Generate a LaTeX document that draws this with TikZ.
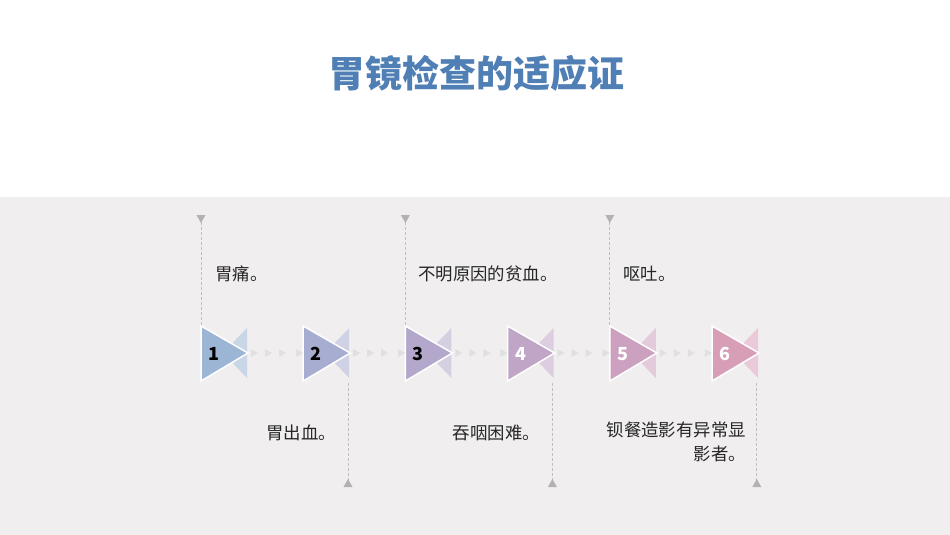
\documentclass[tikz,border=0pt]{standalone}
\usepackage{fontspec}
\setmainfont{Noto Sans CJK SC}
\begin{document}
\begin{tikzpicture}[x=1pt,y=-1pt,
  dashln/.style={draw=black!25,dash pattern=on 3pt off 2pt,line width=0.8pt},
  lab/.style={font=\fontsize{17.4}{24}\selectfont,text=black!85,inner sep=0pt}]
\useasboundingbox (0,0) rectangle (950,535);
\fill[white] (0,0) rectangle (950,535);
\definecolor{bg}{HTML}{F0EEEF}
\fill[bg] (0,197) rectangle (950,535);
\node[font=\fontsize{37}{42}\selectfont\bfseries,text={rgb,255:red,79;green,127;blue,181}] (title) at (476,73) {胃镜检查的适应证};
\definecolor{c1}{HTML}{9DB5D5}\definecolor{c2}{HTML}{A7ADD0}\definecolor{c3}{HTML}{B3A8CB}
\definecolor{c4}{HTML}{C0A5C6}\definecolor{c5}{HTML}{CCA1BF}\definecolor{c6}{HTML}{D89EB8}
\foreach \i/\c/\t in {0/c1/black,1/c2/black,2/c3/black,3/c4/white,4/c5/white,5/c6/white}{
  \pgfmathsetmacro{\x}{201+102.2*\i}
  \fill[\c!55!white] (\x+46,328) -- (\x+46,378) -- (\x+22,353) -- cycle;
  \fill[\c,draw=white,line width=1.5pt] (\x,326) -- (\x+47,353) -- (\x,381) -- cycle;
  \node[font=\fontsize{18}{18}\selectfont\bfseries,text=\t] (n\i) at (\x+13,354) {\the\numexpr\i+1\relax};
}
\foreach \i in {0,...,4}{
  \pgfmathsetmacro{\x}{201+102.2*\i}
  \foreach \d in {50,64,78,95}{
    \fill[black!12] (\x+\d,349) -- (\x+\d+7,353) -- (\x+\d,357) -- cycle;}
}
\foreach \x/\k in {201/a,405.4/b,609.8/c}{
  \coordinate (t\k) at (\x,222);
  \coordinate (u\k) at (\x,325);
  \draw[dashln] (t\k) -- (u\k);
  \fill[black!30] (\x-4.5,215) -- (\x+4.5,215) -- (\x,223) -- cycle;
}
\foreach \x/\k in {348/a,552.4/b,756.8/c}{
  \coordinate (b\k) at (\x,481);
  \coordinate (v\k) at (\x,383);
  \draw[dashln] (v\k) -- (b\k);
  \fill[black!30] (\x-4.5,487) -- (\x+4.5,487) -- (\x,479) -- cycle;
}
\node[lab,anchor=west] (l1) at (215,274) {胃痛。};
\node[lab,anchor=west] (l3) at (418,274) {不明原因的贫血。};
\node[lab,anchor=west] (l5) at (623,274) {呕吐。};
\node[lab,anchor=east] (l2) at (336,433) {胃出血。};
\node[lab,anchor=east] (l4) at (540,433) {吞咽困难。};
\node[lab,anchor=north east,align=right] (l6) at (746,422) {钡餐造影有异常显\\影者。};
\end{tikzpicture}
\end{document}
